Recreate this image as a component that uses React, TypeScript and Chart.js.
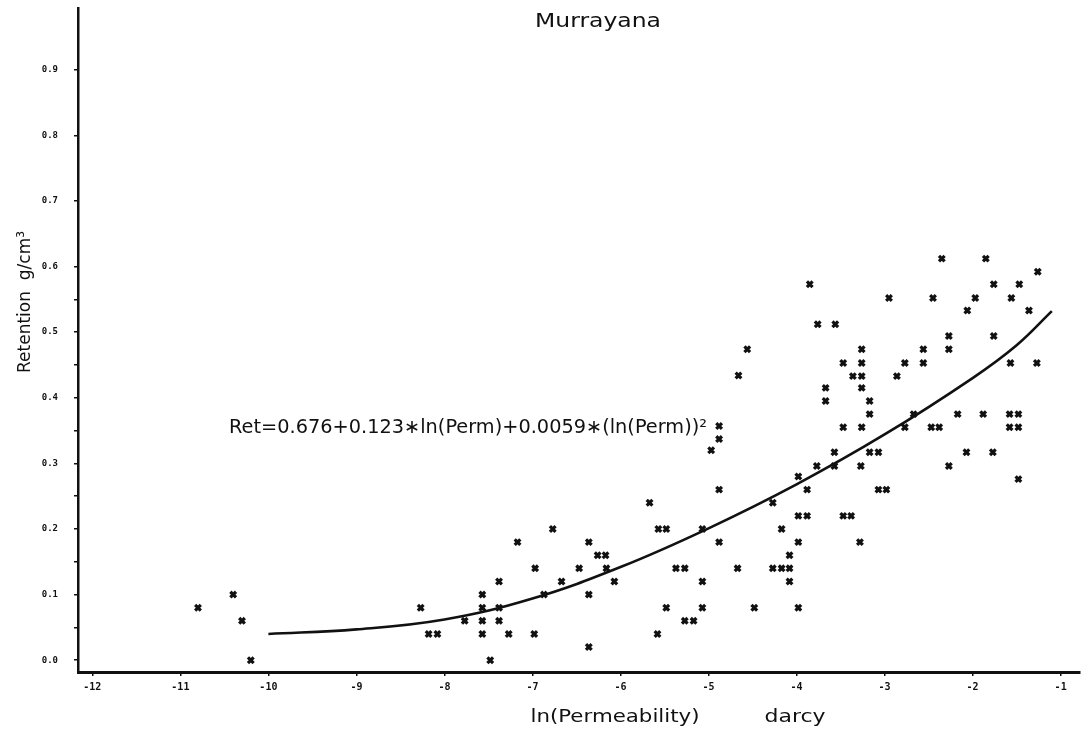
import React, { useEffect, useRef } from "react";
import { Chart, registerables } from "chart.js";

Chart.register(...registerables);

// ---- data ----
const titleText = "Murrayana";
const yTitleText = "Retention  g/cm³";
const xTitleMain = "ln(Permeability)";
const xTitleUnit = "darcy";
const equationText = "Ret=0.676+0.123∗ln(Perm)+0.0059∗(ln(Perm))²";

const xTickValues = [-12, -11, -10, -9, -8, -7, -6, -5, -4, -3, -2, -1];
const yMajorTicks = [0, 0.1, 0.2, 0.3, 0.4, 0.5, 0.6, 0.7, 0.8, 0.9];
const yMinorTicks = [0.05, 0.15, 0.25, 0.35, 0.45, 0.55];

const lnPerm = [
  -10.8, -10.4, -10.3, -10.2, -8.27, -8.18, -8.08, -7.77, -7.57, -7.57,
  -7.57, -7.57, -7.48, -7.38, -7.38, -7.38, -7.27, -7.17, -6.97, -6.98,
  -6.87, -6.77, -6.67, -6.47, -6.36, -6.36, -6.36, -6.26, -6.17, -6.16,
  -6.07, -5.67, -5.57, -5.48, -5.58, -5.48, -5.37, -5.27, -5.27, -5.17,
  -5.07, -5.07, -5.07, -4.97, -4.88, -4.88, -4.88, -4.88, -4.67, -4.66,
  -4.56, -4.48, -4.27, -4.17, -4.08, -4.27, -4.17, -4.08, -4.08, -3.98,
  -3.98, -3.98, -3.88, -3.88, -3.98, -3.47, -3.38, -3.28, -3.07, -2.98,
  -3.85, -3.76, -3.56, -3.67, -3.67, -3.77, -3.57, -3.57, -3.47, -3.47,
  -3.36, -3.26, -3.26, -3.26, -3.26, -3.26, -3.27, -3.17, -3.17, -3.17,
  -3.07, -2.95, -2.86, -2.77, -2.77, -2.67, -2.56, -2.56, -2.47, -2.38,
  -2.45, -2.35, -2.27, -2.27, -2.27, -2.17, -2.07, -2.06, -1.97, -1.88,
  -1.85, -1.77, -1.76, -1.76, -1.58, -1.48, -1.58, -1.48, -1.56, -1.57,
  -1.47, -1.48, -1.36, -1.27, -1.26,
];
const retention = [
  0.08, 0.10, 0.06, 0.00, 0.08, 0.04, 0.04, 0.06, 0.10, 0.08,
  0.06, 0.04, 0.00, 0.12, 0.08, 0.06, 0.04, 0.18, 0.14, 0.04,
  0.10, 0.20, 0.12, 0.14, 0.18, 0.10, 0.02, 0.16, 0.16, 0.14,
  0.12, 0.24, 0.20, 0.20, 0.04, 0.08, 0.14, 0.14, 0.06, 0.06,
  0.20, 0.12, 0.08, 0.32, 0.26, 0.18, 0.357, 0.337, 0.14, 0.434,
  0.474, 0.08, 0.24, 0.20, 0.16, 0.14, 0.14, 0.14, 0.12, 0.08,
  0.18, 0.22, 0.22, 0.26, 0.28, 0.22, 0.22, 0.18, 0.26, 0.26,
  0.573, 0.512, 0.512, 0.415, 0.395, 0.296, 0.317, 0.296, 0.453, 0.355,
  0.433, 0.433, 0.474, 0.453, 0.415, 0.355, 0.296, 0.395, 0.375, 0.317,
  0.317, 0.552, 0.433, 0.453, 0.355, 0.375, 0.474, 0.453, 0.355, 0.355,
  0.552, 0.612, 0.494, 0.474, 0.296, 0.375, 0.317, 0.533, 0.552, 0.375,
  0.612, 0.317, 0.573, 0.494, 0.375, 0.375, 0.355, 0.355, 0.552, 0.453,
  0.573, 0.276, 0.533, 0.453, 0.592,
];

const fitX = [-10, -9, -8, -7, -6, -5, -4, -3, -2, -1.5, -1.1];
const fitY = [0.040, 0.047, 0.062, 0.094, 0.142, 0.201, 0.268, 0.344, 0.430, 0.480, 0.532];

const INK = "#111111";

const textPlugin = {
  id: "plotText",
  afterDraw(chart: any) {
    const ctx: CanvasRenderingContext2D = chart.ctx;
    const fitText = (text: string, cx: number, cy: number, width: number, font: string, rot = 0, align: CanvasTextAlign = "center") => {
      ctx.save();
      ctx.font = font;
      ctx.fillStyle = INK;
      ctx.textBaseline = "middle";
      ctx.textAlign = align;
      const w = ctx.measureText(text).width;
      ctx.translate(cx, cy);
      if (rot) ctx.rotate(rot);
      ctx.scale(width / w, 1);
      ctx.fillText(text, 0, 0);
      ctx.restore();
    };
    fitText(titleText, 598, 22, 126, '19px "DejaVu Sans"');
    fitText(equationText, 229, 428, 478, '19px "DejaVu Sans"', 0, "left");
    fitText(yTitleText, 25, 302, 142, '18px "DejaVu Sans"', -Math.PI / 2);
    fitText(xTitleMain, 615, 717, 169, '18px "DejaVu Sans"');
    fitText(xTitleUnit, 795, 717, 61, '18px "DejaVu Sans"');
  },
};

export default function App() {
  const ref = useRef<HTMLCanvasElement | null>(null);

  useEffect(() => {
    document.body.style.margin = "0";
    const canvas = ref.current;
    if (!canvas) return;
    const chart = new Chart(canvas, {
      type: "scatter",
      data: {
        datasets: [
          {
            type: "scatter",
            label: "Samples",
            data: lnPerm.map((x, i) => ({ x, y: retention[i] })),
            pointStyle: "crossRot",
            pointRadius: 4,
            pointBorderWidth: 3.2,
            borderColor: INK,
            backgroundColor: INK,
          },
          {
            type: "line",
            label: "Fit",
            data: fitX.map((x, i) => ({ x, y: fitY[i] })),
            borderColor: INK,
            borderWidth: 2.6,
            pointRadius: 0,
            fill: false,
            tension: 0.4,
          } as any,
        ],
      },
      plugins: [textPlugin],
      options: {
        responsive: false,
        animation: false,
        layout: { padding: { top: 8, right: 9, left: 0, bottom: 0 } },
        plugins: {
          legend: { display: false },
          tooltip: { enabled: false },
          title: { display: false },
        },
        scales: {
          x: {
            type: "linear",
            min: -12.163,
            max: -0.78,
            afterBuildTicks: (s: any) => {
              s.ticks = xTickValues.map((v) => ({ value: v }));
            },
            afterFit: (s: any) => {
              s.height = 57;
              s.paddingLeft = 0;
              s.paddingRight = 0;
            },
            ticks: {
              color: INK,
              font: { family: "DejaVu Sans Mono", size: 10, weight: "bold" },
              padding: 5,
              maxRotation: 0,
              autoSkip: false,
              callback: (v: any) => String(v),
            },
            grid: { drawOnChartArea: false, drawTicks: true, tickLength: 4, color: INK, lineWidth: 1.5 },
            border: { display: true, color: INK, width: 3 },
          },
          y: {
            type: "linear",
            min: -0.018,
            max: 0.994,
            afterBuildTicks: (s: any) => {
              s.ticks = [...yMajorTicks, ...yMinorTicks].sort((a, b) => a - b).map((v) => ({ value: v }));
            },
            afterFit: (s: any) => {
              s.width = 78;
              s.paddingTop = 0;
              s.paddingBottom = 0;
            },
            ticks: {
              color: INK,
              font: { family: "DejaVu Sans Mono", size: 9, weight: "bold" },
              padding: 16,
              autoSkip: false,
              callback: (v: any) => (yMajorTicks.some((t) => Math.abs(t - v) < 1e-6) ? Number(v).toFixed(1) : ""),
            },
            grid: { drawOnChartArea: false, drawTicks: true, tickLength: 4, color: INK, lineWidth: 1.5 },
            border: { display: true, color: INK, width: 2.5 },
          },
        },
      } as any,
    });
    return () => chart.destroy();
  }, []);

  return (
    <div style={{ position: "absolute", left: 0, top: 0, width: 1089, height: 729, background: "#fff" }}>
      <canvas ref={ref} width={1089} height={729} />
    </div>
  );
}
